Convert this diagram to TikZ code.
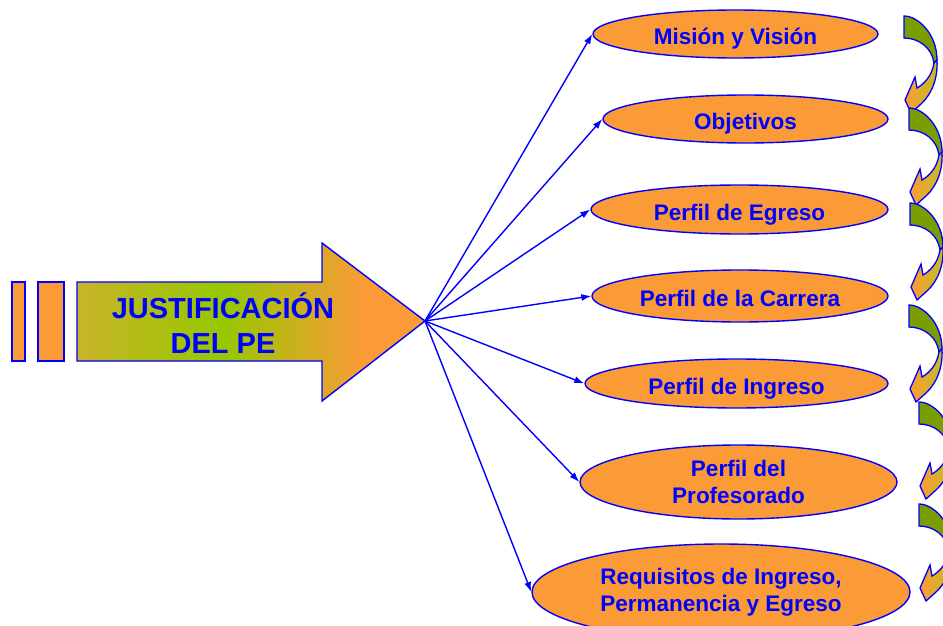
\documentclass[tikz,border=0pt]{standalone}
\usepackage{fontspec}
\setmainfont{Liberation Sans}
\usetikzlibrary{arrows.meta,shapes.geometric}

\definecolor{lineblue}{RGB}{0,0,255}
\definecolor{fillorange}{RGB}{250,155,55}
\definecolor{arrowgreen}{RGB}{150,200,0}
\definecolor{arrowolive}{RGB}{200,180,40}
\definecolor{bandgreen}{RGB}{122,158,0}
\definecolor{shaftyellow}{RGB}{195,190,30}

\pgfdeclarehorizontalshading{mainshade}{100bp}{color(0bp)=(arrowolive); color(25bp)=(arrowolive); color(46bp)=(arrowgreen); color(66bp)=(fillorange); color(100bp)=(fillorange)}

\begin{document}
\begin{tikzpicture}[
  x=1pt, y=-1pt,
  oval/.style={ellipse, draw=lineblue, line width=1.4pt, fill=fillorange, inner sep=0pt,
    text=lineblue, align=center, font=\bfseries\fontsize{22.5}{27}\selectfont},
  oneline/.style={text height=21pt, text depth=0pt},
  bar/.style={draw=lineblue, line width=1.4pt, fill=fillorange},
  maintext/.style={text=lineblue, align=center, font=\bfseries\fontsize{29}{35}\selectfont},
  conn/.style={draw=lineblue, line width=1.4pt, -{Latex[length=10pt,width=7pt]}},
  curvarrow/.pic={
    \draw[draw=lineblue, line width=1.3pt, fill=bandgreen]
      (0,0) .. controls (14,0) and (33,18) .. (33,44) -- (30,47)
      .. controls (28,32) and (15,22) .. (0,22) -- cycle;
    \draw[draw=lineblue, line width=1.3pt, left color=fillorange, right color=shaftyellow]
      (33,44) .. controls (34,62) and (28,78) .. (17,88) -- (7,97) -- (1,84)
      -- (11,61) -- (13,72) .. controls (20,68) and (28,60) .. (30,47) -- cycle;
  }
]
\useasboundingbox (0,0) rectangle (943,626);

% big arrow
\draw[bar] (12,282) rectangle (25,361);
\draw[bar] (38,282) rectangle (64,361);
\draw[draw=lineblue, line width=1.4pt, shade, shading=mainshade]
  (77,282) -- (322,282) -- (322,243) -- (425,321) -- (322,401) -- (322,361) -- (77,361) -- cycle;
\coordinate (tip) at (425,321);
\node[maintext] (just) at (223,323) {JUSTIFICACIÓN\\DEL PE};

% components
\node[oval, oneline, minimum width=285pt, minimum height=48pt] (mision) at (735.5,34) {Misión y Visión};
\node[oval, oneline, minimum width=285pt, minimum height=48pt] (objetivos) at (745.5,119) {Objetivos};
\node[oval, oneline, minimum width=297pt, minimum height=49pt] (egreso) at (739.5,209.5) {Perfil de Egreso};
\node[oval, oneline, minimum width=296pt, minimum height=52pt] (carrera) at (740,296) {Perfil de la Carrera};
\node[oval, oneline, minimum width=303pt, minimum height=49pt] (ingreso) at (736.5,383.5) {Perfil de Ingreso};
\node[oval, minimum width=317pt, minimum height=74pt] (profesorado) at (738.5,482) {Perfil del\\Profesorado};
\node[oval, minimum width=378pt, minimum height=96pt] (requisitos) at (721,592) {Requisitos de Ingreso,\\Permanencia y Egreso};

% connectors
\draw[conn] (tip) -- (mision.west);
\draw[conn] (tip) -- (objetivos.west);
\draw[conn] (tip) -- (egreso.west);
\draw[conn] (tip) -- (carrera.west);
\draw[conn] (tip) -- (ingreso.west);
\draw[conn] (tip) -- (profesorado.west);
\draw[conn] (tip) -- (requisitos.west);

% curved arrows on the right
\pic at (904,16) {curvarrow};
\pic at (909,108) {curvarrow};
\pic at (910,203) {curvarrow};
\pic at (909,305) {curvarrow};
\pic at (919,402) {curvarrow};
\pic at (919,504) {curvarrow};
\end{tikzpicture}
\end{document}
